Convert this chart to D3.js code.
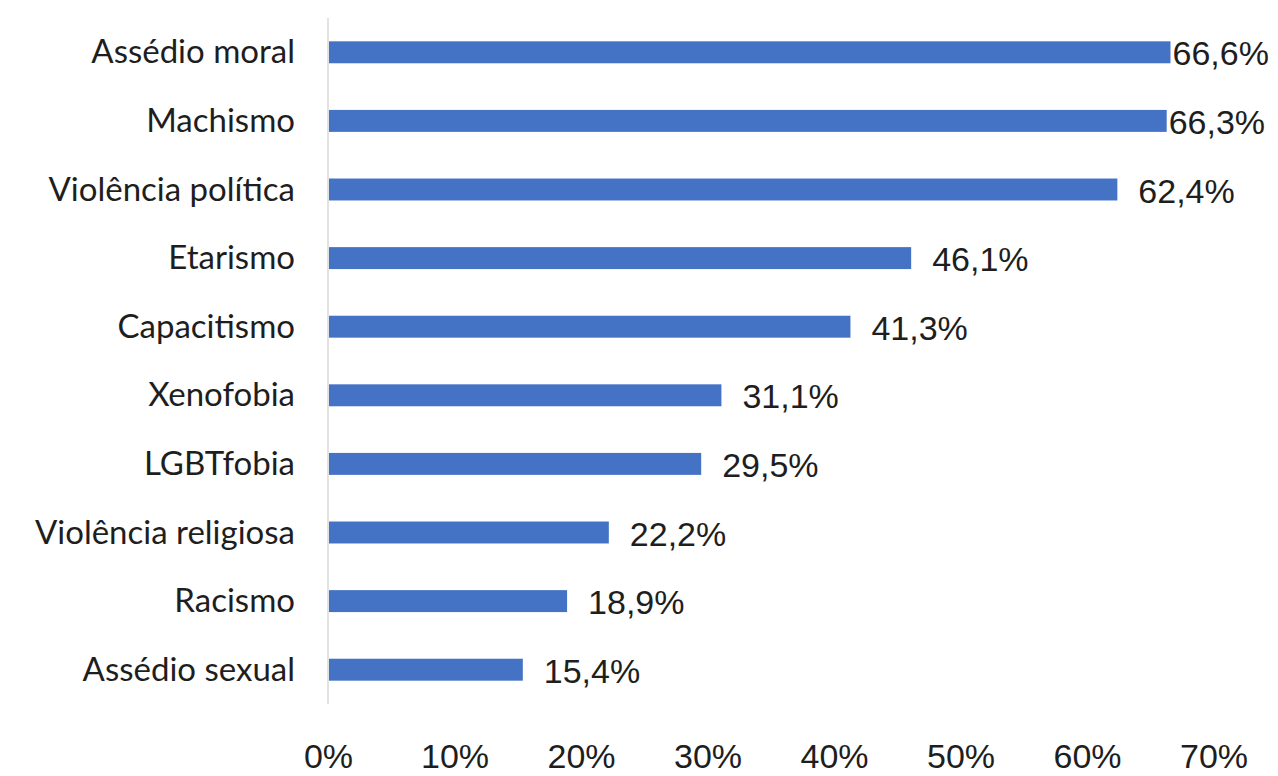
<!DOCTYPE html>
<html>
<head>
<meta charset="utf-8">
<script src="https://cdn.jsdelivr.net/npm/d3@7"></script>
<style>
  html, body { margin: 0; padding: 0; background: #ffffff; }
  svg { display: block; }
</style>
</head>
<body>
<svg id="chart" width="1278" height="776"></svg>
<script>
const categories = ["Assédio moral", "Machismo", "Violência política", "Etarismo", "Capacitismo",
  "Xenofobia", "LGBTfobia", "Violência religiosa", "Racismo", "Assédio sexual"];
const values = [66.6, 66.3, 62.4, 46.1, 41.3, 31.1, 29.5, 22.2, 18.9, 15.4];
const valueLabels = ["66,6%", "66,3%", "62,4%", "46,1%", "41,3%", "31,1%", "29,5%", "22,2%", "18,9%", "15,4%"];
const tickValues = [0, 10, 20, 30, 40, 50, 60, 70];
const tickLabels = ["0%", "10%", "20%", "30%", "40%", "50%", "60%", "70%"];

const W = 1278, H = 776;
const svg = d3.select("#chart");

const x = d3.scaleLinear().domain([0, 70]).range([328, 1213.5]);
const y = d3.scaleBand().domain(categories).range([18, 704]).paddingInner(0.68).paddingOuter(0.34).align(0.5);

const data = categories.map((c, i) => ({ c, v: values[i], lab: valueLabels[i] }));

// vertical axis line
svg.append("line")
  .attr("x1", x(0)).attr("x2", x(0))
  .attr("y1", y.range()[0]).attr("y2", y.range()[1])
  .attr("stroke", "#d9d9d9").attr("stroke-width", 1.5);

// bars
svg.append("g").selectAll("rect").data(data).join("rect")
  .attr("x", x(0) + 1)
  .attr("y", d => y(d.c))
  .attr("width", d => x(d.v) - x(0) - 1)
  .attr("height", y.bandwidth())
  .attr("fill", "#4472C4");

// category labels
svg.append("g").selectAll("text").data(data).join("text")
  .attr("x", 295)
  .attr("y", d => y(d.c) + y.bandwidth() / 2 + 11)
  .attr("text-anchor", "end")
  .attr("font-family", "Lato, 'Noto Sans', sans-serif")
  .attr("font-size", 33)
  .attr("fill", "#1e1e1e")
  .text(d => d.c);

// value labels
const vl = svg.append("g").selectAll("text").data(data).join("text")
  .attr("y", d => y(d.c) + y.bandwidth() / 2 + 13)
  .attr("font-family", "'Liberation Sans', Arial, sans-serif")
  .attr("font-size", 34)
  .attr("fill", "#1e1e1e")
  .text(d => d.lab);
vl.each(function(d) {
  const w = this.getComputedTextLength();
  let px = x(d.v) + 21;
  if (px + w > 1272) px = x(d.v) + 2;
  d3.select(this).attr("x", px);
});

// x axis tick labels
const xAxis = d3.axisBottom(x).tickValues(tickValues).tickFormat((d, i) => tickLabels[i]).tickSize(0).tickPadding(0);
const gx = svg.append("g").attr("transform", "translate(0,744)").call(xAxis);
gx.select(".domain").remove();
gx.selectAll("text")
  .attr("font-family", "'Liberation Sans', Arial, sans-serif")
  .attr("font-size", 34)
  .attr("fill", "#1e1e1e")
  .attr("dy", "0.71em");
</script>
</body>
</html>
